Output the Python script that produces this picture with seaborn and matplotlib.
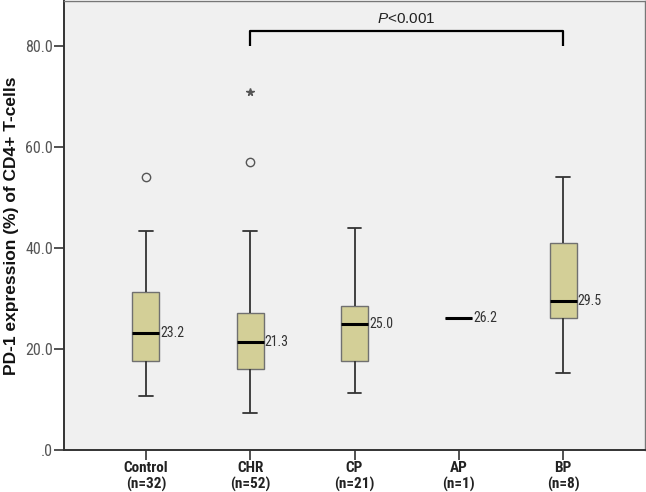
import numpy as np
import pandas as pd
import matplotlib
matplotlib.use("Agg")
import matplotlib.pyplot as plt
from matplotlib import font_manager
import seaborn as sns

# ---- data ----
groups = ["Control", "CHR", "CP", "AP", "BP"]
tick_labels = ["Control\n(n=32)", "CHR\n(n=52)", "CP\n(n=21)", "AP\n(n=1)", "BP\n(n=8)"]
whisker_low = [10.6, 7.4, 11.2, 26.2, 15.3]
q1 = [17.7, 16.0, 17.7, 26.2, 26.1]
median = [23.2, 21.3, 25.0, 26.2, 29.5]
q3 = [31.3, 27.2, 28.5, 26.2, 41.0]
whisker_high = [43.4, 43.4, 44.0, 26.2, 54.1]
outlier_groups = ["Control", "CHR"]
outlier_values = [54.1, 57.0]
extreme_groups = ["CHR"]
extreme_values = [70.8]
bracket_from, bracket_to = "CHR", "BP"
p_text = "$P$<0.001"

names = sorted({f.name for f in font_manager.fontManager.ttflist})
narrow = None
for cand in ["Liberation Sans Narrow", "DejaVu Sans Condensed", "Roboto Condensed", "Open Sans Condensed"]:
    if cand in names:
        narrow = cand
        break
narrow_family = [narrow, "Liberation Sans"] if narrow else ["Liberation Sans"]

sns.set_theme(style="white")
plt.rcParams["font.family"] = ["Liberation Sans", "DejaVu Sans"]
plt.rcParams["mathtext.fontset"] = "custom"
plt.rcParams["mathtext.it"] = "Liberation Sans:italic"
plt.rcParams["mathtext.rm"] = "Liberation Sans"

rows = []
for g, a, b, c, d, e in zip(groups, whisker_low, q1, median, q3, whisker_high):
    for v in (a, b, c, d, e):
        rows.append({"group": g, "value": v})
df = pd.DataFrame(rows)

fig = plt.figure(figsize=(6.46, 4.92), dpi=100)
ax = fig.add_axes([64 / 646, 42 / 492, 581 / 646, 449 / 492])
ax.set_facecolor("#F0F0F0")

sns.boxplot(
    data=df, x="group", y="value", order=groups, ax=ax,
    width=0.26, color="#D3CF97", whis=(0, 100), showfliers=False,
    linecolor="#333333", linewidth=1.2, saturation=1,
    boxprops=dict(edgecolor="#707070", linewidth=1.0),
    medianprops=dict(color="black", linewidth=2.2),
    whiskerprops=dict(color="#333333", linewidth=1.3),
    capprops=dict(color="#333333", linewidth=1.3),
)

pos = {g: i for i, g in enumerate(groups)}
ax.plot([pos[g] for g in outlier_groups], outlier_values, linestyle="none",
        marker="o", markersize=6, markerfacecolor="none", markeredgecolor="#555555",
        markeredgewidth=1.0)
ax.plot([pos[g] for g in extreme_groups], extreme_values, linestyle="none",
        marker="*", markersize=5.5, color="#555555")

for i, m in enumerate(median):
    ax.text(i + 0.14, m, f"{m:.1f}", va="center", ha="left", fontsize=10,
            color="#333333", family=narrow_family)

x0, x1 = pos[bracket_from], pos[bracket_to]
ax.plot([x0, x0, x1, x1], [80.0, 83.0, 83.0, 80.0], color="black", linewidth=1.6,
        solid_capstyle="butt")
ax.text((x0 + x1) / 2, 84.0, p_text, ha="center", va="bottom", fontsize=11,
        color="#222222")

ax.set_xlim(-0.785, 4.785)
ax.set_ylim(0, 88.9)
ax.set_yticks([0, 20, 40, 60, 80])
ax.set_yticklabels([".0", "20.0", "40.0", "60.0", "80.0"], fontsize=11.5, color="#555555",
                   family=narrow_family)
ax.set_xticks(range(len(groups)))
ax.set_xticklabels(tick_labels, fontsize=11, fontweight="bold",
                   family=narrow_family, color="#222222")
ax.tick_params(axis="both", which="both", direction="out", length=7, width=1.2,
               color="#333333", left=True, bottom=True, pad=1)
ax.set_xlabel("")
ax.set_ylabel("PD-1 expression (%) of CD4+ T-cells", fontsize=12.5, fontweight="bold",
              color="#111111", labelpad=4.5)
for side in ["top", "right"]:
    ax.spines[side].set_color("#777777")
    ax.spines[side].set_linewidth(1.0)
for side in ["left", "bottom"]:
    ax.spines[side].set_color("#333333")
    ax.spines[side].set_linewidth(1.4)

fig.savefig("out.png", dpi=100, facecolor="white")
